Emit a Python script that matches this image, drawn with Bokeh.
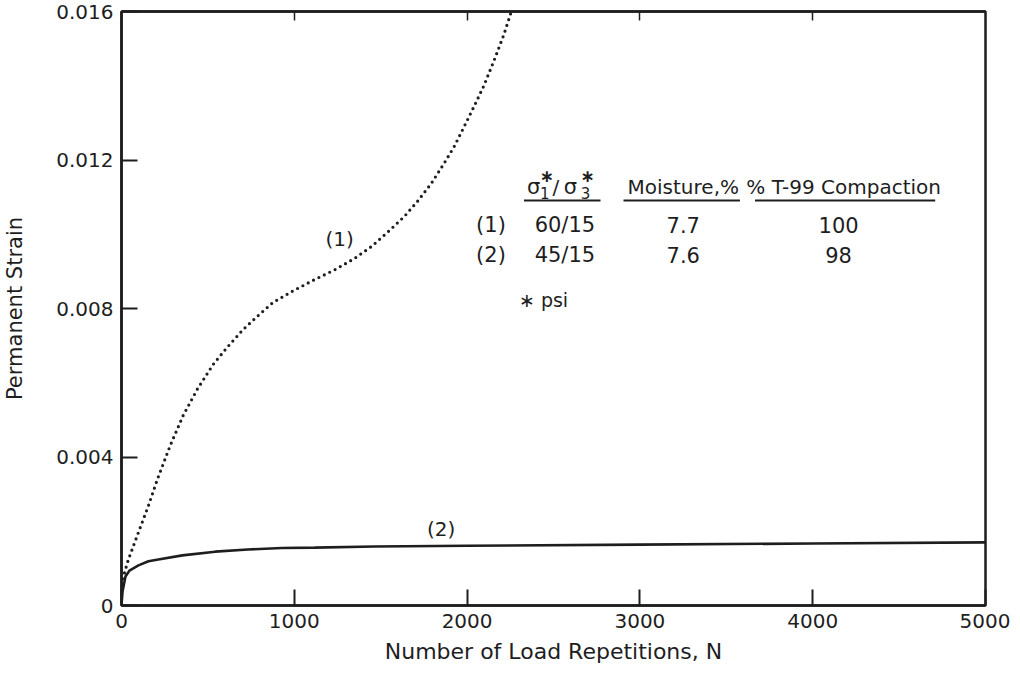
from bokeh.plotting import figure
from bokeh.models import Range1d, FixedTicker, LinearAxis
from bokeh.core.properties import value
from bokeh.embed import file_html
from bokeh.resources import INLINE

# ---------------- data ----------------
x_ticks = [0, 1000, 2000, 3000, 4000, 5000]
y_ticks = [0, 0.004, 0.008, 0.012, 0.016]
y_tick_labels = ["0", "0.004", "0.008", "0.012", "0.016"]

# Curve (1): sigma1/sigma3 = 60/15 (dotted)
n1 = [0, 6, 40, 98, 156, 207, 282, 357, 438, 530, 611, 703, 784, 876, 991,
      1118, 1233, 1349, 1447, 1539, 1637, 1712, 1793, 1867, 1925, 1983, 2040,
      2098, 2156, 2213, 2254]
strain1 = [0.0004, 0.0007, 0.00124, 0.00197, 0.00269, 0.00339, 0.00431,
           0.00512, 0.00582, 0.00649, 0.00695, 0.00743, 0.00778, 0.00816,
           0.00847, 0.00878, 0.00904, 0.00935, 0.00967, 0.01005, 0.01048,
           0.01088, 0.01137, 0.01191, 0.01236, 0.01290, 0.01344, 0.01401,
           0.01468, 0.01538, 0.01597]

# Curve (2): sigma1/sigma3 = 45/15 (solid)
n2 = [0, 6, 23, 46, 98, 156, 213, 352, 542, 732, 928, 1118, 1464, 2000,
      3000, 4000, 5000]
strain2 = [0, 0.00038, 0.00078, 0.00094, 0.00108, 0.00119, 0.00124, 0.00135,
           0.00145, 0.00151, 0.00155, 0.00156, 0.00159, 0.00161, 0.00164,
           0.00167, 0.00170]

curve_labels = ["(1)", "(2)"]
curve_label_x = [1262, 1850]
curve_label_y = [0.00986, 0.00207]

# Table
headers = ["Moisture,%", "% T-99 Compaction"]
header_x = [3251, 4179]
header_y = 0.01126
row_ids = ["(1)", "(2)"]
row_ratio = ["60/15", "45/15"]
row_moist = ["7.7", "7.6"]
row_comp = ["100", "98"]
row_y = [0.01024, 0.00945]
col_x = [2138, 2566, 3251, 4150]
underline_x0 = [2329, 2905, 3666]
underline_x1 = [2772, 3579, 4709]
underline_y = 0.01091
sigma_x = [2346, 2559]
slash_x = 2513
sub_text = ["1", "3"]
sub_x = [2450, 2686]
sub_y = 0.01110
star_x = [2461, 2697]
star_y = 0.01158
psi_text = "\u2217 psi"
psi_x = 2300
psi_y = 0.00824

INK = "#1e1e1e"
FONT = "DejaVu Sans"

p = figure(width=1010, height=672, output_backend="svg", toolbar_location=None,
           x_range=Range1d(0, 5000), y_range=Range1d(0, 0.016),
           min_border_left=118, min_border_right=25, min_border_top=11,
           min_border_bottom=67)
p.background_fill_color = "white"
p.border_fill_color = "white"
p.grid.visible = False
p.outline_line_color = INK
p.outline_line_width = 2.5

# bottom axis
xa = p.xaxis[0]
xa.ticker = FixedTicker(ticks=x_ticks)
xa.minor_tick_line_color = None
xa.major_tick_in = 16
xa.major_tick_out = 0
xa.major_tick_line_width = 2
xa.major_tick_line_color = INK
xa.axis_line_color = INK
xa.axis_line_width = 2.5
xa.major_label_text_font = FONT
xa.major_label_text_font_size = "20px"
xa.major_label_text_color = INK
xa.major_label_standoff = 8
xa.axis_label = "Number of Load Repetitions, N"
xa.axis_label_text_font = FONT
xa.axis_label_text_font_size = "22px"
xa.axis_label_text_font_style = "normal"
xa.axis_label_text_color = INK
xa.axis_label_standoff = 8

# left axis
ya = p.yaxis[0]
ya.ticker = FixedTicker(ticks=y_ticks)
ya.major_label_overrides = {t: s for t, s in zip(y_ticks, y_tick_labels)}
ya.minor_tick_line_color = None
ya.major_tick_in = 16
ya.major_tick_out = 0
ya.major_tick_line_width = 2
ya.major_tick_line_color = INK
ya.axis_line_color = INK
ya.axis_line_width = 2.5
ya.major_label_text_font = FONT
ya.major_label_text_font_size = "20px"
ya.major_label_text_color = INK
ya.major_label_standoff = 8
ya.axis_label = "Permanent Strain"
ya.axis_label_text_font = FONT
ya.axis_label_text_font_size = "21px"
ya.axis_label_text_font_style = "normal"
ya.axis_label_text_color = INK
ya.axis_label_standoff = 26

# top axis: inward ticks only
top = LinearAxis(ticker=FixedTicker(ticks=x_ticks[1:-1]))
top.major_label_text_font_size = "0px"
top.major_label_text_color = None
top.minor_tick_line_color = None
top.major_tick_in = 9
top.major_tick_out = 0
top.major_tick_line_width = 1.5
top.major_tick_line_color = INK
top.axis_line_color = INK
top.axis_line_width = 2.5
top.major_label_standoff = 0
p.add_layout(top, "above")

# curves
p.line(n2, strain2, line_color=INK, line_width=2.6)
p.line(n1, strain1, line_color=INK, line_width=3.2, line_dash="0 6",
       line_cap="round")

p.text(x=curve_label_x, y=curve_label_y, text=curve_labels,
       text_font=value(FONT), text_font_size="20px", text_color=INK,
       text_align="center", text_baseline="middle")

# table headers
p.text(x=header_x, y=[header_y] * 2, text=headers, text_font=value(FONT),
       text_font_size="20px", text_color=INK, text_align="center",
       text_baseline="middle")
# sigma header pieces  (σ1*/σ3*)
p.text(x=sigma_x, y=[header_y] * 2, text=["\u03c3", "\u03c3"],
       text_font=value(FONT), text_font_size="21px", text_color=INK,
       text_align="left", text_baseline="middle")
p.text(x=[slash_x], y=[header_y], text=["/"],
       text_font=value(FONT), text_font_size="20px", text_color=INK,
       text_align="center", text_baseline="middle")
p.text(x=sub_x, y=[sub_y] * 2, text=sub_text,
       text_font=value(FONT), text_font_size="15px", text_color=INK,
       text_align="center", text_baseline="middle")
p.text(x=star_x, y=[star_y] * 2, text=["\u2217", "\u2217"],
       text_font=value(FONT), text_font_size="17px", text_font_style="bold",
       text_color=INK, text_align="center", text_baseline="middle")
p.segment(x0=underline_x0, y0=[underline_y] * 3, x1=underline_x1,
          y1=[underline_y] * 3, line_color=INK, line_width=2)

# table rows
for col, vals in zip(col_x, [row_ids, row_ratio, row_moist, row_comp]):
    p.text(x=[col] * 2, y=row_y, text=vals, text_font=value(FONT),
           text_font_size="21px", text_color=INK, text_align="center",
           text_baseline="middle")

p.text(x=[psi_x], y=[psi_y], text=[psi_text], text_font=value(FONT),
       text_font_size="19px", text_color=INK, text_align="left",
       text_baseline="middle")

open("out.html", "w").write(file_html(p, INLINE))
